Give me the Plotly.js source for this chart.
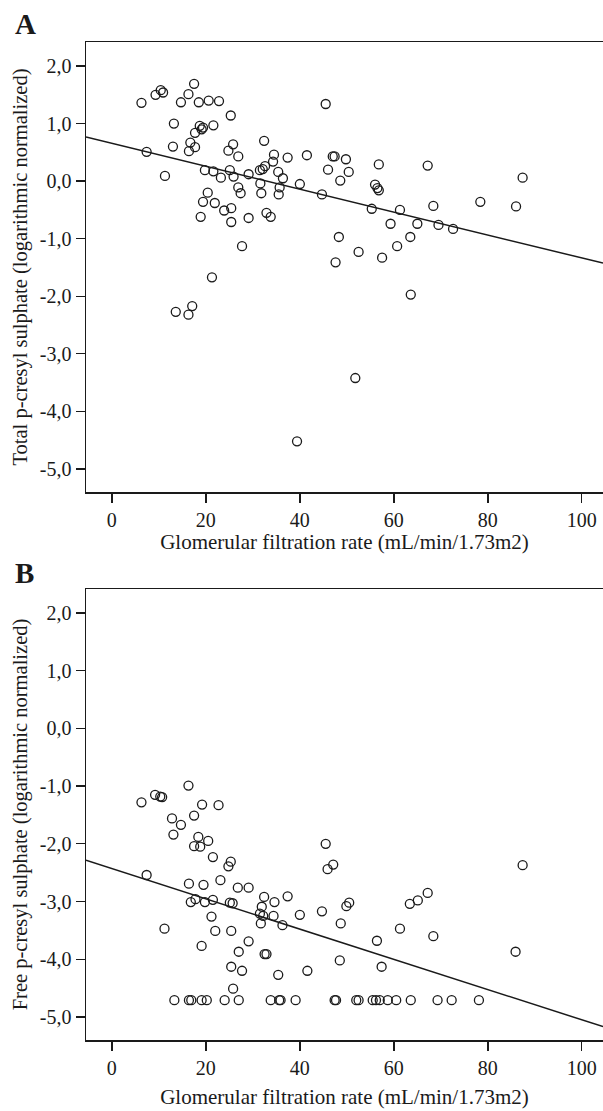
<!DOCTYPE html>
<html>
<head>
<meta charset="utf-8">
<script src="https://cdn.plot.ly/plotly-3.0.1.min.js"></script>
<style>
  html, body { margin: 0; padding: 0; background: #fff; }
  #chart { width: 603px; height: 1111px; }
</style>
</head>
<body>
<div id="chart"></div>
<script>
// ---- Panel A: GFR vs total p-cresyl sulphate (log normalized) ----
const gfrA = [6.3, 9.3, 10.4, 10.9, 17.5, 16.3, 14.7, 18.5, 20.6, 22.8, 25.3, 13.2, 18.7, 19.4, 19.1, 21.6,
  17.7, 16.7, 17.7, 16.4, 13.0, 7.4, 11.3, 24.8, 25.8, 26.9, 32.4, 34.5, 34.3, 37.4, 41.5, 47.0, 47.4, 46.0,
  31.5, 32.1, 32.6, 19.8, 21.6, 23.2, 25.1, 25.9, 29.1, 31.6, 35.4, 36.4, 35.7, 35.5, 40.0, 44.7, 26.9, 27.4,
  31.8, 20.4, 19.4, 21.9, 23.9, 25.4, 18.9, 25.4, 29.1, 32.9, 33.8, 48.6, 48.3, 27.7, 47.6, 21.3, 17.1, 13.6,
  16.3, 45.5, 49.8, 50.4, 56.8, 56.0, 56.5, 56.8, 67.2, 87.4, 55.3, 61.3, 68.4, 78.4, 86.0, 59.3, 65.0, 69.5,
  72.6, 63.5, 60.7, 52.5, 57.5, 63.6, 51.8, 39.4];
const totalPCS = [1.36, 1.50, 1.58, 1.54, 1.69, 1.51, 1.37, 1.37, 1.40, 1.39, 1.14, 1.00, 0.96, 0.93, 0.90, 0.97,
  0.84, 0.67, 0.59, 0.52, 0.60, 0.51, 0.09, 0.53, 0.64, 0.43, 0.70, 0.46, 0.34, 0.41, 0.45, 0.43, 0.43, 0.20,
  0.19, 0.21, 0.26, 0.19, 0.17, 0.06, 0.19, 0.08, 0.12, -0.04, 0.16, 0.05, -0.11, -0.23, -0.05, -0.23, -0.11, -0.21,
  -0.21, -0.20, -0.36, -0.38, -0.51, -0.47, -0.62, -0.71, -0.64, -0.55, -0.62, 0.01, -0.97, -1.13, -1.41, -1.67, -2.17, -2.27,
  -2.32, 1.34, 0.38, 0.16, 0.29, -0.06, -0.12, -0.16, 0.27, 0.06, -0.48, -0.50, -0.43, -0.36, -0.44, -0.74, -0.74, -0.76,
  -0.83, -0.97, -1.13, -1.23, -1.33, -1.97, -3.42, -4.52];
const fitA = { intercept: 0.656, slope: -0.0199 };

// ---- Panel B: GFR vs free p-cresyl sulphate (log normalized) ----
const gfrB = [6.3, 9.2, 10.3, 10.7, 16.3, 19.2, 22.7, 17.5, 12.8, 14.7, 13.1, 18.4, 20.5, 17.5, 18.8, 21.5, 25.3, 24.8,
  45.5, 45.9, 47.1, 87.4,
  7.4, 16.4, 19.5, 23.1, 26.8, 29.1, 32.4, 37.4, 34.6, 31.9, 16.8, 17.8, 19.8, 21.5, 25.1, 25.7, 31.5, 32.2, 34.4, 40.0, 44.7, 21.2,
  67.2, 65.1, 63.4, 49.9, 50.5, 48.7, 61.3, 68.4, 56.4,
  11.2, 22.0, 25.4, 31.7, 36.3, 29.1, 19.1, 27.0, 32.5, 32.9, 85.9, 48.5, 57.4, 25.4, 27.7, 35.4, 41.6, 25.8,
  13.3, 16.4, 16.9, 19.1, 20.2, 24.0, 27.0, 33.8, 35.6, 35.9, 39.1, 47.4, 47.7, 52.0, 52.5, 55.5, 56.2, 57.0, 58.7, 60.5, 63.6, 69.3, 72.3, 78.1];
const freePCS = [-1.28, -1.15, -1.18, -1.19, -0.99, -1.32, -1.33, -1.51, -1.56, -1.67, -1.84, -1.88, -1.95, -2.04, -2.05, -2.23, -2.31, -2.39,
  -2.00, -2.44, -2.36, -2.37,
  -2.54, -2.69, -2.71, -2.63, -2.76, -2.76, -2.92, -2.91, -3.01, -3.09, -3.01, -2.96, -3.01, -2.97, -3.02, -3.03, -3.21, -3.25, -3.25, -3.23, -3.17, -3.26,
  -2.85, -2.98, -3.04, -3.08, -3.02, -3.38, -3.47, -3.60, -3.68,
  -3.47, -3.51, -3.51, -3.38, -3.41, -3.69, -3.77, -3.87, -3.91, -3.91, -3.87, -4.02, -4.13, -4.13, -4.20, -4.27, -4.20, -4.51,
  -4.71, -4.71, -4.71, -4.71, -4.71, -4.71, -4.71, -4.71, -4.71, -4.71, -4.71, -4.71, -4.71, -4.71, -4.71, -4.71, -4.71, -4.71, -4.71, -4.71, -4.71, -4.71, -4.71, -4.71];
const fitB = { intercept: -2.43, slope: -0.0262 };

// ---- Axes ----
const xRange = [-5.5, 104.5];
const yRange = [-5.4, 2.417];
const xTickVals = [0, 20, 40, 60, 80, 100];
const yTickVals = [-5, -4, -3, -2, -1, 0, 1, 2];
const yTickLabels = ['-5,0', '-4,0', '-3,0', '-2,0', '-1,0', '0,0', '1,0', '2,0'];
const xTitle = 'Glomerular filtration rate (mL/min/1.73m2)';
const yTitleA = 'Total p-cresyl sulphate (logarithmic normalized)';
const yTitleB = 'Free p-cresyl sulphate (logarithmic normalized)';
const panelLabels = ['A', 'B'];

const W = 603, H = 1111;
const ink = '#1a1a1a';
const serif = 'Liberation Serif, Times New Roman, serif';

function fitLine(fit) {
  return xRange.map(x => fit.intercept + fit.slope * x);
}

const marker = { symbol: 'circle-open', size: 9, color: ink, line: { width: 1.3, color: ink } };

const traces = [
  { x: gfrA, y: totalPCS, type: 'scatter', mode: 'markers', marker: marker, xaxis: 'x', yaxis: 'y', hoverinfo: 'x+y' },
  { x: xRange, y: fitLine(fitA), type: 'scatter', mode: 'lines', line: { color: ink, width: 1.5 }, xaxis: 'x', yaxis: 'y' },
  { x: gfrB, y: freePCS, type: 'scatter', mode: 'markers', marker: marker, xaxis: 'x2', yaxis: 'y2', hoverinfo: 'x+y' },
  { x: xRange, y: fitLine(fitB), type: 'scatter', mode: 'lines', line: { color: ink, width: 1.5 }, xaxis: 'x2', yaxis: 'y2' }
];

const xDomain = [86 / W, 1];
const domA = [(H - 492) / H, (H - 42) / H];
const domB = [(H - 1040) / H, (H - 589) / H];

function xAxis(anchor, standoff) {
  return {
    domain: xDomain, anchor: anchor, range: xRange, tickvals: xTickVals,
    ticks: 'outside', ticklen: 9, tickwidth: 1.3, tickcolor: ink,
    showline: true, linecolor: ink, linewidth: 1.5, mirror: true,
    showgrid: false, zeroline: false,
    tickfont: { family: serif, size: 20, color: ink },
    title: { text: xTitle, font: { family: serif, size: 21, color: ink }, standoff: standoff }
  };
}
function yAxis(anchor, dom, title) {
  return {
    domain: dom, anchor: anchor, range: yRange, tickvals: yTickVals, ticktext: yTickLabels,
    ticks: 'outside', ticklen: 9, tickwidth: 1.3, tickcolor: ink,
    showline: true, linecolor: ink, linewidth: 1.5, mirror: false,
    showgrid: false, zeroline: false,
    tickfont: { family: serif, size: 20, color: ink },
    title: { text: title, font: { family: serif, size: 20.5, color: ink }, standoff: 6 }
  };
}

const layout = {
  width: W, height: H,
  margin: { l: 0, r: 0, t: 0, b: 0 },
  paper_bgcolor: '#fff', plot_bgcolor: '#fff',
  showlegend: false,
  xaxis: xAxis('y', 0),
  yaxis: yAxis('x', domA, yTitleA),
  xaxis2: xAxis('y2', 12),
  yaxis2: yAxis('x2', domB, yTitleB),
  annotations: [
    { text: '<b>' + panelLabels[0] + '</b>', xref: 'paper', yref: 'paper', x: 13 / W, y: (H - 24) / H,
      xanchor: 'left', yanchor: 'middle', showarrow: false, font: { family: serif, size: 29, color: ink } },
    { text: '<b>' + panelLabels[1] + '</b>', xref: 'paper', yref: 'paper', x: 13 / W, y: (H - 573) / H,
      xanchor: 'left', yanchor: 'middle', showarrow: false, font: { family: serif, size: 29, color: ink } }
  ]
};

Plotly.newPlot('chart', traces, layout, { staticPlot: true, displayModeBar: false });
</script>
</body>
</html>
